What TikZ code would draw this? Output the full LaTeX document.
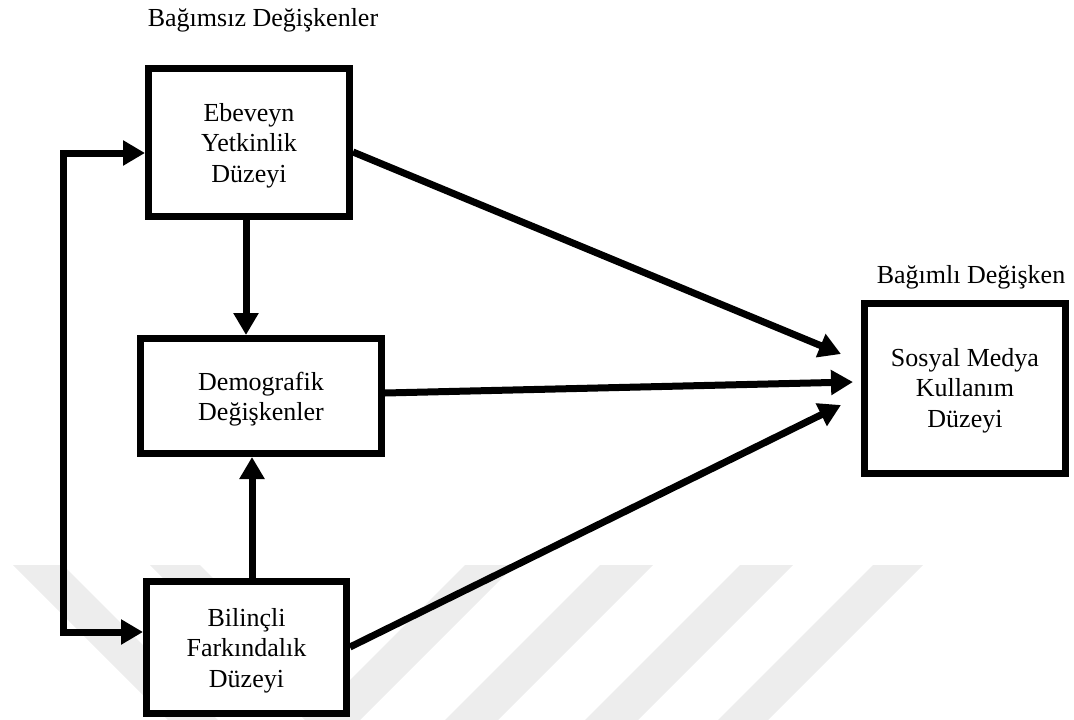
\documentclass[tikz,border=0pt]{standalone}
\usepackage{fontspec}
\setmainfont{Liberation Serif}
\usetikzlibrary{arrows.meta}
\definecolor{wm}{HTML}{EDEDED}
\begin{document}
\begin{tikzpicture}[x=1pt,y=-1pt,
  box/.style={draw=black, line width=7pt, fill=white, rectangle, inner sep=0pt},
  txt/.style={align=center, inner sep=0pt, font=\fontsize{26}{30.5}\selectfont},
  lbl/.style={anchor=base, inner sep=0pt, font=\fontsize{26}{30.5}\selectfont},
  arr/.style={line width=7pt, -{Triangle[length=22pt,width=24pt]}},
  stripe/.style={fill=wm, draw=none}]
\useasboundingbox (0,0) rectangle (1074,720);
% watermark
\fill[stripe] (13,565) -- (63,565) -- (218,720) -- (168,720) -- cycle;
\fill[stripe] (150,565) -- (200,565) -- (355,720) -- (305,720) -- cycle;
\fill[stripe] (465,565) -- (515,565) -- (360,720) -- (310,720) -- cycle;
\fill[stripe] (600,565) -- (653,565) -- (498,720) -- (445,720) -- cycle;
\fill[stripe] (740,565) -- (793,565) -- (638,720) -- (585,720) -- cycle;
\fill[stripe] (873,565) -- (923,565) -- (768,720) -- (718,720) -- cycle;
% boxes
\node[box, minimum width=201pt, minimum height=148pt] (ebev) at (249,142.5) {};
\node[box, minimum width=241pt, minimum height=115pt] (demo) at (261,396) {};
\node[box, minimum width=200pt, minimum height=132pt] (bil) at (246.5,647.5) {};
\node[box, minimum width=201pt, minimum height=170pt] (sos) at (965,388.5) {};
\node[txt] (ebevT) at ([yshift=-3pt]ebev.center) {Ebeveyn\\Yetkinlik\\Düzeyi};
\node[txt] (demoT) at ([yshift=-3pt]demo.center) {Demografik\\Değişkenler};
\node[txt] (bilT) at ([yshift=-3pt]bil.center) {Bilinçli\\Farkındalık\\Düzeyi};
\node[txt] (sosT) at ([yshift=-2pt]sos.center) {Sosyal Medya\\Kullanım\\Düzeyi};
% labels
\node[lbl] (lblA) at (263,26) {Bağımsız Değişkenler};
\node[lbl] (lblB) at (971,283) {Bağımlı Değişken};
% connectors
\coordinate (lt) at (63,153);
\coordinate (lb) at (63,632);
\coordinate (t1) at (841,354);
\coordinate (t2) at (853,382);
\coordinate (t3) at (841,405);
\draw[line width=7pt, {Triangle[length=22pt,width=24pt]}-{Triangle[length=22pt,width=24pt]}]
  (ebev.west |- lt) -- (lt) -- (lb) -- (bil.west |- lb);
\draw[arr] ([xshift=-3pt]ebev.south) -- ([xshift=-3pt]ebev.south |- demo.north);
\draw[arr] ([xshift=5.5pt]bil.north) -- ([xshift=5.5pt]bil.north |- demo.south);
\draw[arr] (ebev.east |- 0,152) -- (t1);
\draw[arr] (demo.east |- 0,393) -- (t2);
\draw[arr] (bil.east |- 0,647) -- (t3);
\end{tikzpicture}
\end{document}
